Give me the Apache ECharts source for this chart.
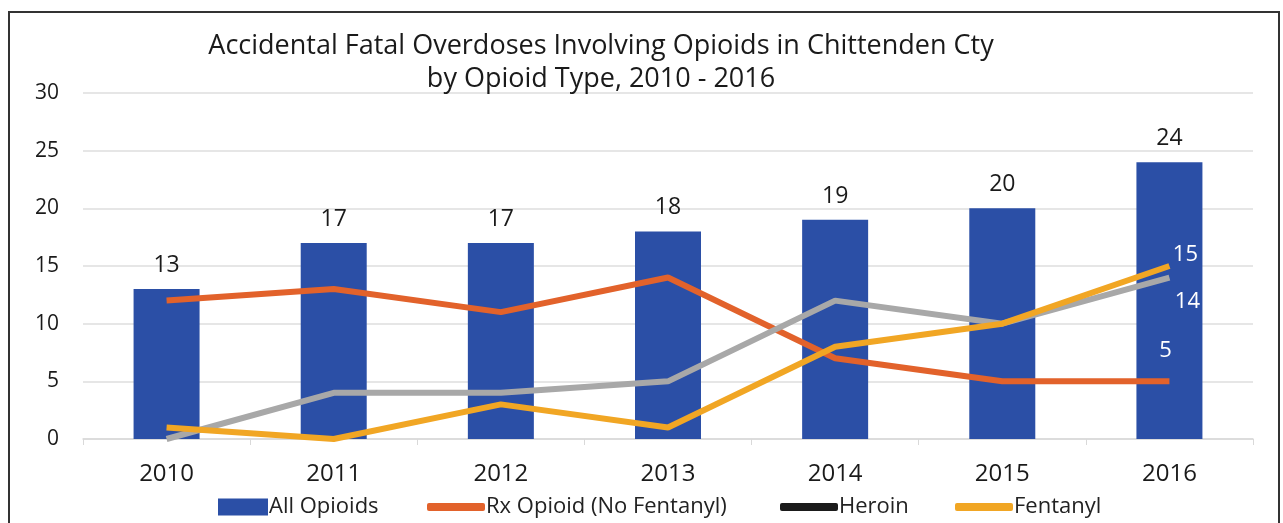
<!DOCTYPE html>
<html>
<head>
<meta charset="utf-8">
<script src="https://cdn.jsdelivr.net/npm/echarts@6/dist/echarts.min.js"></script>
<style>
  html, body { margin: 0; padding: 0; background: #fff; }
  #myChart { width: 1283px; height: 523px; }
</style>
</head>
<body>
<div id="myChart"></div>
<script>
var years = ['2010', '2011', '2012', '2013', '2014', '2015', '2016'];
var allOpioids = [13, 17, 17, 18, 19, 20, 24];
var rxOpioid = [12, 13, 11, 14, 7, 5, 5];
var heroin = [0, 4, 4, 5, 12, 10, 14];
var fentanyl = [1, 0, 3, 1, 8, 10, 15];
var yTicks = [0, 5, 10, 15, 20, 25, 30];

var fontName = 'Open Sans';

// only the last point of each line carries a label
function lastLabel(values, pos, offset) {
    return values.map(function (v, i) {
        if (i !== values.length - 1) return v;
        return {
            value: v,
            label: {
                show: true, position: pos, offset: offset,
                color: '#fff', fontSize: 22, fontFamily: fontName
            }
        };
    });
}

function legendItem(name, left, opts) {
    var l = {
        data: [name],
        left: left, top: 491,
        itemGap: 0,
        textStyle: { fontFamily: fontName, fontSize: 22, color: '#222', padding: [0, 0, 0, -4] }
    };
    for (var k in opts) l[k] = opts[k];
    return l;
}

var myChart = echarts.init(document.getElementById('myChart'));
var option = {
    backgroundColor: '#fff',
    animation: false,
    title: {
        text: 'Accidental Fatal Overdoses Involving Opioids in Chittenden Cty\nby Opioid Type, 2010 - 2016',
        left: 596,
        top: 25,
        textAlign: 'center',
        textStyle: {
            fontFamily: fontName, fontSize: 27, fontWeight: 'normal',
            color: '#1a1a1a', lineHeight: 33
        }
    },
    graphic: [{
        type: 'rect',
        shape: { x: 9, y: 12, width: 1270, height: 530 },
        style: { fill: null, stroke: '#333', lineWidth: 2 },
        silent: true
    }],
    legend: [
        legendItem('All Opioids', 213, { icon: 'rect', itemWidth: 50, itemHeight: 17 }),
        legendItem('Rx Opioid (No Fentanyl)', 422, { icon: 'roundRect', itemWidth: 58, itemHeight: 8 }),
        legendItem({ name: 'Heroin', itemStyle: { color: '#1b1b1b' } }, 775, { icon: 'roundRect', itemWidth: 58, itemHeight: 8 }),
        legendItem('Fentanyl', 950, { icon: 'roundRect', itemWidth: 58, itemHeight: 8 })
    ],
    grid: { left: 83, right: 30, top: 93, bottom: 84 },
    xAxis: {
        type: 'category',
        data: years,
        axisLine: { lineStyle: { color: '#d9d9d9', width: 1.5 } },
        axisTick: { show: true, length: 6, lineStyle: { color: '#d9d9d9' } },
        axisLabel: { fontFamily: fontName, fontSize: 24, color: '#1a1a1a', margin: 23 }
    },
    yAxis: {
        type: 'value',
        min: yTicks[0],
        max: yTicks[yTicks.length - 1],
        interval: 5,
        axisLine: { show: false },
        axisTick: { show: false },
        axisLabel: { fontFamily: fontName, fontSize: 21, color: '#1a1a1a', margin: 24 },
        splitLine: { lineStyle: { color: '#dedede', width: 1.5 } }
    },
    series: [
        {
            name: 'All Opioids',
            type: 'bar',
            data: allOpioids,
            barWidth: 66,
            itemStyle: { color: '#2b4fa6' },
            label: {
                show: true, position: 'top', distance: 12,
                fontFamily: fontName, fontSize: 23, color: '#1a1a1a'
            }
        },
        {
            name: 'Rx Opioid (No Fentanyl)',
            type: 'line',
            data: lastLabel(rxOpioid, 'top', [-4, -15]),
            symbol: 'circle', symbolSize: 0, showSymbol: true,
            lineStyle: { width: 6, color: '#e2622b' },
            itemStyle: { color: '#e2622b' }
        },
        {
            name: 'Heroin',
            type: 'line',
            data: lastLabel(heroin, 'bottom', [18, 8]),
            symbol: 'circle', symbolSize: 0, showSymbol: true,
            lineStyle: { width: 6, color: '#a8a8a8' },
            itemStyle: { color: '#a8a8a8' }
        },
        {
            name: 'Fentanyl',
            type: 'line',
            data: lastLabel(fentanyl, 'top', [16, 5]),
            symbol: 'circle', symbolSize: 0, showSymbol: true,
            lineStyle: { width: 6, color: '#f1a624' },
            itemStyle: { color: '#f1a624' }
        }
    ]
};

myChart.setOption(option);
</script>
</body>
</html>
